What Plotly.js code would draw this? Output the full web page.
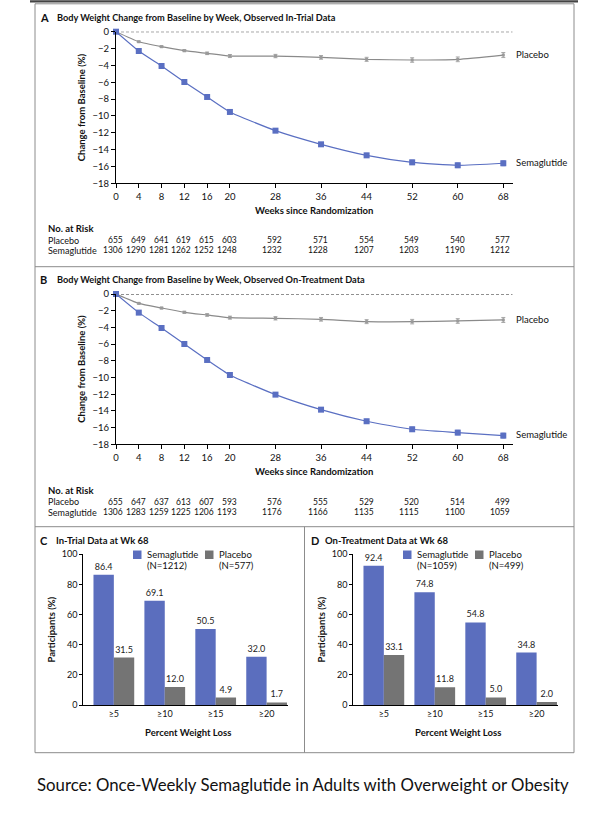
<!DOCTYPE html>
<html>
<head>
<meta charset="utf-8">
<script src="https://cdn.plot.ly/plotly-3.0.1.min.js"></script>
<style>html,body{margin:0;padding:0;background:#fff;}#chart{width:605px;height:816px;}</style>
</head>
<body>
<div id="chart"></div>
<script>
// ---------- DATA ----------
const weeks = [0, 4, 8, 12, 16, 20, 28, 36, 44, 52, 60, 68];
const weekTicks = [0, 4, 8, 12, 16, 20, 28, 36, 44, 52, 60, 68];
const yTicksLine = [-18, -16, -14, -12, -10, -8, -6, -4, -2, 0];
const yTickTextLine = ['\u221218', '\u221216', '\u221214', '\u221212', '\u221210', '\u22128', '\u22126', '\u22124', '\u22122', '0'];

// Panel A: observed in-trial data
const semaA = [0, -2.29, -4.07, -5.97, -7.75, -9.53, -11.75, -13.37, -14.68, -15.51, -15.86, -15.62];
const semaAErr = [0, 0.08, 0.1, 0.12, 0.14, 0.16, 0.19, 0.21, 0.24, 0.27, 0.28, 0.3];
const placeboA = [0, -1.19, -1.78, -2.25, -2.57, -2.89, -2.89, -3.05, -3.28, -3.36, -3.28, -2.77];
const placeboAErr = [0, 0.08, 0.1, 0.12, 0.15, 0.18, 0.2, 0.22, 0.24, 0.27, 0.28, 0.3];
const riskPlaceboA = [655, 649, 641, 619, 615, 603, 592, 571, 554, 549, 540, 577];
const riskSemaA = [1306, 1290, 1281, 1262, 1252, 1248, 1232, 1228, 1207, 1203, 1190, 1212];

// Panel B: observed on-treatment data
const semaB = [0, -2.23, -4.07, -5.99, -7.9, -9.7, -12.05, -13.85, -15.24, -16.2, -16.6, -16.96];
const semaBErr = [0, 0.08, 0.1, 0.12, 0.14, 0.16, 0.19, 0.21, 0.24, 0.27, 0.28, 0.3];
const placeboB = [0, -1.12, -1.68, -2.19, -2.51, -2.83, -2.91, -3.03, -3.31, -3.31, -3.23, -3.11];
const placeboBErr = [0, 0.08, 0.1, 0.12, 0.15, 0.18, 0.2, 0.22, 0.24, 0.27, 0.28, 0.3];
const riskPlaceboB = [655, 647, 637, 613, 607, 593, 576, 555, 529, 520, 514, 499];
const riskSemaB = [1306, 1283, 1259, 1225, 1206, 1193, 1176, 1166, 1135, 1115, 1100, 1059];

// Panels C, D: participants (%) reaching weight loss thresholds at week 68
const lossCats = ['\u22655', '\u226510', '\u226515', '\u226520'];
const semaC = [86.4, 69.1, 50.5, 32.0];
const placeboC = [31.5, 12.0, 4.9, 1.7];
const semaD = [92.4, 74.8, 54.8, 34.8];
const placeboD = [33.1, 11.8, 5.0, 2.0];
const nC = {sema: 1212, placebo: 577};
const nD = {sema: 1059, placebo: 499};

// ---------- HELPERS ----------
const W = 605, H = 816;
const px = v => v / W;
const py = v => 1 - v / H;
const FONT = 'Lato, "Noto Sans", sans-serif';
const BLUE = '#5b6ebe';
const BLUE_LINE = '#5a6fc2';
const GRAY = '#747474';
const GRAY_LINE = '#8a8a8a';
const BORDER = '#8c8c8c';

function lineTraces(sema, semaErr, placebo, placeboErr, xa, ya) {
  return [
    {
      x: weeks, y: placebo, xaxis: xa, yaxis: ya, type: 'scatter', mode: 'lines+markers',
      name: 'Placebo', showlegend: false, cliponaxis: false,
      line: {color: GRAY_LINE, width: 1.2, shape: 'spline', smoothing: 0.5},
      marker: {symbol: 'square', size: 3, color: '#9a9a9a'},
      error_y: {type: 'data', array: placeboErr, color: '#a8a8a8', thickness: 1, width: 2}
    },
    {
      x: weeks, y: sema, xaxis: xa, yaxis: ya, type: 'scatter', mode: 'lines+markers',
      name: 'Semaglutide', showlegend: false, cliponaxis: false,
      line: {color: BLUE_LINE, width: 1.2, shape: 'spline', smoothing: 0.5},
      marker: {symbol: 'square', size: 6, color: BLUE_LINE},
      error_y: {type: 'data', array: semaErr, color: '#9fabe0', thickness: 1, width: 2}
    }
  ];
}

function barTraces(sema, placebo, xa, ya) {
  return [
    {
      x: lossCats, y: sema, xaxis: xa, yaxis: ya, type: 'bar', name: 'Semaglutide',
      marker: {color: BLUE}, showlegend: false, cliponaxis: false,
      text: sema.map(v => v.toFixed(1)), textposition: 'outside',
      textfont: {family: FONT, size: 9, color: '#222'}
    },
    {
      x: lossCats, y: placebo, xaxis: xa, yaxis: ya, type: 'bar', name: 'Placebo',
      marker: {color: GRAY}, showlegend: false, cliponaxis: false,
      text: placebo.map(v => v.toFixed(1)), textposition: 'outside',
      textfont: {family: FONT, size: 9, color: '#222'}
    }
  ];
}

const data = [
  ...lineTraces(semaA, semaAErr, placeboA, placeboAErr, 'x', 'y'),
  ...lineTraces(semaB, semaBErr, placeboB, placeboBErr, 'x2', 'y2'),
  ...barTraces(semaC, placeboC, 'x3', 'y3'),
  ...barTraces(semaD, placeboD, 'x4', 'y4')
];

const lineX = (anchor) => ({
  domain: [px(116), px(512.7)], range: [0, 69.65], anchor: anchor,
  tickvals: weekTicks, ticktext: weekTicks.map(String),
  ticks: 'outside', ticklen: 4, tickwidth: 1, tickcolor: '#000',
  showline: true, linecolor: '#000', linewidth: 1,
  showgrid: false, zeroline: false, fixedrange: true,
  tickfont: {family: FONT, size: 9.5, color: '#111'}
});
const lineY = (anchor, top, bottom) => ({
  domain: [py(bottom), py(top)], range: [-18, 0], anchor: anchor,
  tickvals: yTicksLine, ticktext: yTickTextLine,
  ticks: 'outside', ticklen: 4, tickwidth: 1, tickcolor: '#000',
  showline: true, linecolor: '#000', linewidth: 1,
  showgrid: false, zeroline: false, fixedrange: true,
  tickfont: {family: FONT, size: 9.5, color: '#111'}
});
const barX = (anchor, left, right) => ({
  domain: [px(left), px(right)], range: [-0.6, 3.42], anchor: anchor, type: 'category',
  ticks: '', showline: true, linecolor: '#000', linewidth: 1,
  showgrid: false, zeroline: false, fixedrange: true,
  tickfont: {family: FONT, size: 9, color: '#111'}
});
const barY = (anchor) => ({
  domain: [py(705), py(554.3)], range: [0, 100], anchor: anchor,
  tickvals: [0, 20, 40, 60, 80, 100],
  ticks: 'outside', ticklen: 3, tickwidth: 1, tickcolor: '#000',
  showline: true, linecolor: '#000', linewidth: 1,
  showgrid: false, zeroline: false, fixedrange: true,
  tickfont: {family: FONT, size: 9, color: '#111'}
});

const annotations = [];
function txt(x, y, text, opts) {
  annotations.push(Object.assign({
    xref: 'paper', yref: 'paper', x: px(x), y: py(y), text: text, showarrow: false,
    xanchor: 'left', yanchor: 'middle',
    font: {family: FONT, size: 9.5, color: '#111'}
  }, opts || {}));
}

// Panel titles
txt(37.5, 17, '<b>A</b>', {font: {family: FONT, size: 11, color: '#111'}});
txt(54.5, 17, '<b>Body Weight Change from Baseline by Week, Observed In-Trial Data</b>', {font: {family: FONT, size: 9.2, color: '#111'}});
txt(37.5, 279, '<b>B</b>', {font: {family: FONT, size: 11, color: '#111'}});
txt(54.5, 279, '<b>Body Weight Change from Baseline by Week, Observed On-Treatment Data</b>', {font: {family: FONT, size: 9.2, color: '#111'}});
txt(38.5, 540, '<b>C</b>', {font: {family: FONT, size: 11, color: '#111'}});
txt(53.5, 540, '<b>In-Trial Data at Wk 68</b>', {font: {family: FONT, size: 9.5, color: '#111'}});
txt(308.5, 540, '<b>D</b>', {font: {family: FONT, size: 11, color: '#111'}});
txt(323.5, 540, '<b>On-Treatment Data at Wk 68</b>', {font: {family: FONT, size: 9.5, color: '#111'}});

// Axis titles (line panels)
[[107.5, 211], [369, 471.7]].forEach(([yc, xt]) => {
  txt(81.7, yc, '<b>Change from Baseline (%)</b>', {xanchor: 'center', textangle: -90});
  txt(314, xt, '<b>Weeks since Randomization</b>', {xanchor: 'center'});
});
// Series labels
txt(513.5, 55, 'Placebo');
txt(513.5, 163, 'Semaglutide');
txt(513.5, 320, 'Placebo');
txt(513.5, 434, 'Semaglutide');

// Risk tables
function riskTable(xa, headY, rowP, rowS, placeboVals, semaVals) {
  txt(45.5, headY, '<b>No. at Risk</b>');
  txt(45.5, rowP, 'Placebo', {font: {family: FONT, size: 9, color: '#111'}});
  txt(45.5, rowS, 'Semaglutide', {font: {family: FONT, size: 9, color: '#111'}});
  weeks.forEach((w, i) => {
    annotations.push({xref: xa, yref: 'paper', x: w, y: py(rowP), text: String(placeboVals[i]),
      showarrow: false, xanchor: 'right', yanchor: 'middle', xshift: 9,
      font: {family: FONT, size: 8.5, color: '#111'}});
    annotations.push({xref: xa, yref: 'paper', x: w, y: py(rowS), text: String(semaVals[i]),
      showarrow: false, xanchor: 'right', yanchor: 'middle', xshift: 9,
      font: {family: FONT, size: 8.5, color: '#111'}});
  });
}
riskTable('x', 228, 240, 250, riskPlaceboA, riskSemaA);
riskTable('x2', 490, 501.7, 512, riskPlaceboB, riskSemaB);

// Bar panel axis titles + legends
const shapes = [];
[[0, nC], [270, nD]].forEach(([dx, n]) => {
  txt(51 + dx, 629.5, '<b>Participants (%)</b>', {xanchor: 'center', textangle: -90});
  txt(188 + dx, 732.7, '<b>Percent Weight Loss</b>', {xanchor: 'center'});
  shapes.push({type: 'rect', xref: 'paper', yref: 'paper', x0: px(133 + dx), x1: px(141.5 + dx), y0: py(559), y1: py(550.5), fillcolor: BLUE, line: {width: 0}});
  shapes.push({type: 'rect', xref: 'paper', yref: 'paper', x0: px(205 + dx), x1: px(213.5 + dx), y0: py(559), y1: py(550.5), fillcolor: GRAY, line: {width: 0}});
  txt(144.5 + dx, 554.5, 'Semaglutide');
  txt(144.5 + dx, 565.5, '(N=' + n.sema + ')');
  txt(216.5 + dx, 554.5, 'Placebo');
  txt(216.5 + dx, 565.5, '(N=' + n.placebo + ')');
});

// Source line
txt(34.5, 784.3, 'Source: Once-Weekly Semaglutide in Adults with Overweight or Obesity', {font: {family: FONT, size: 16.8, color: '#111'}});

// Dashed zero reference lines
shapes.push({type: 'line', xref: 'x', yref: 'y', x0: 0, x1: 69.65, y0: 0, y1: 0, line: {color: '#222', width: 1, dash: '3px,2px'}, layer: 'below'});
shapes.push({type: 'line', xref: 'x2', yref: 'y2', x0: 0, x1: 69.65, y0: 0, y1: 0, line: {color: '#222', width: 1, dash: '3px,2px'}, layer: 'below'});

// Frame
const L = 35, R = 574;
shapes.push({type: 'line', xref: 'paper', yref: 'paper', x0: px(30), x1: px(578), y0: py(1.3), y1: py(1.3), line: {color: '#444', width: 2.2}});
shapes.push({type: 'rect', xref: 'paper', yref: 'paper', x0: px(L), x1: px(R), y0: py(752.7), y1: py(3.8), line: {color: BORDER, width: 1}});
shapes.push({type: 'line', xref: 'paper', yref: 'paper', x0: px(L), x1: px(R), y0: py(266.7), y1: py(266.7), line: {color: BORDER, width: 1}});
shapes.push({type: 'line', xref: 'paper', yref: 'paper', x0: px(L), x1: px(R), y0: py(526.7), y1: py(526.7), line: {color: BORDER, width: 1}});
shapes.push({type: 'line', xref: 'paper', yref: 'paper', x0: px(304.5), x1: px(304.5), y0: py(526.7), y1: py(752.7), line: {color: BORDER, width: 1}});

const layout = {
  width: W, height: H,
  margin: {l: 0, r: 0, t: 0, b: 0, pad: 0},
  paper_bgcolor: '#fff', plot_bgcolor: 'rgba(0,0,0,0)',
  font: {family: FONT, size: 9.5, color: '#111'},
  showlegend: false,
  barmode: 'group', bargap: 0.2, bargroupgap: 0,
  xaxis: lineX('y'),
  yaxis: lineY('x', 31.7, 183.3),
  xaxis2: lineX('y2'),
  yaxis2: lineY('x2', 294, 444.3),
  xaxis3: barX('y3', 83.3, 288),
  yaxis3: barY('x3'),
  xaxis4: barX('y4', 353.3, 558),
  yaxis4: barY('x4'),
  annotations: annotations,
  shapes: shapes
};

Plotly.newPlot('chart', data, layout, {displayModeBar: false, staticPlot: true});
</script>
</body>
</html>
